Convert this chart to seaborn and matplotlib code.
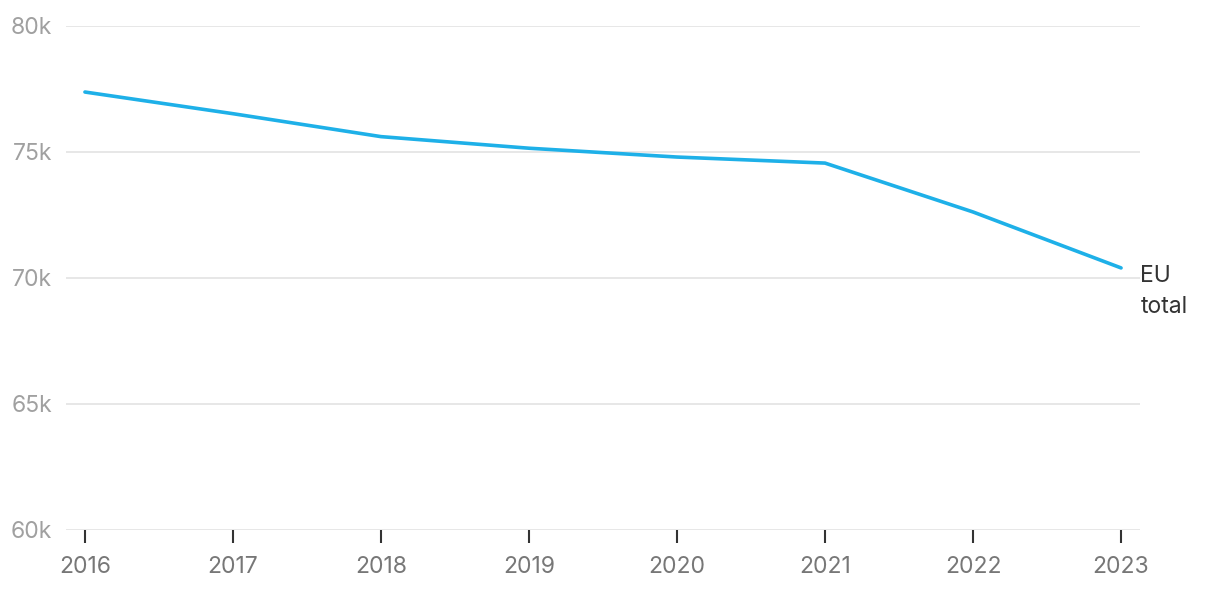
import matplotlib
matplotlib.use("Agg")
import matplotlib.pyplot as plt
import seaborn as sns
import pandas as pd

# values
years = [2016, 2017, 2018, 2019, 2020, 2021, 2022, 2023]
eu_total = [77380, 76520, 75610, 75150, 74800, 74560, 72620, 70400]
series_label = "EU\ntotal"

df = pd.DataFrame({"year": years, "value": eu_total})

sns.set_theme(style="white")
plt.rcParams["font.family"] = ["Inter", "DejaVu Sans"]

fig = plt.figure(figsize=(12.2, 5.92), dpi=100)
ax = fig.add_axes([66 / 1220, 62 / 592, 1074 / 1220, 504 / 592])

sns.lineplot(data=df, x="year", y="value", color="#1eb0e8", linewidth=2.6, ax=ax)

ax.set_ylim(60000, 80000)
ax.set_xlim(2015.872, 2023.128)
ax.set_yticks([60000, 65000, 70000, 75000, 80000])
ax.set_yticklabels(["60k", "65k", "70k", "75k", "80k"])
ax.set_xticks(years)
ax.set_xticklabels([str(y) for y in years])
ax.grid(axis="y", color="#e3e3e3", linewidth=1.2)
ax.set_axisbelow(True)
for s in ax.spines.values():
    s.set_visible(False)

ax.tick_params(axis="y", length=0, pad=10, labelsize=16.5, labelcolor="#a0a0a0")
ax.tick_params(axis="x", length=9, width=1.5, color="#333333", pad=9.5,
               labelsize=16.5, labelcolor="#777777", direction="out", bottom=True)
ax.set_xlabel("")
ax.set_ylabel("")

ax.annotate(series_label, xy=(years[-1], eu_total[-1]), xytext=(14, 2),
            textcoords="offset points", fontsize=16.5, color="#333333",
            va="top", ha="left", linespacing=1.55, annotation_clip=False)

fig.savefig("out.png", dpi=100)
